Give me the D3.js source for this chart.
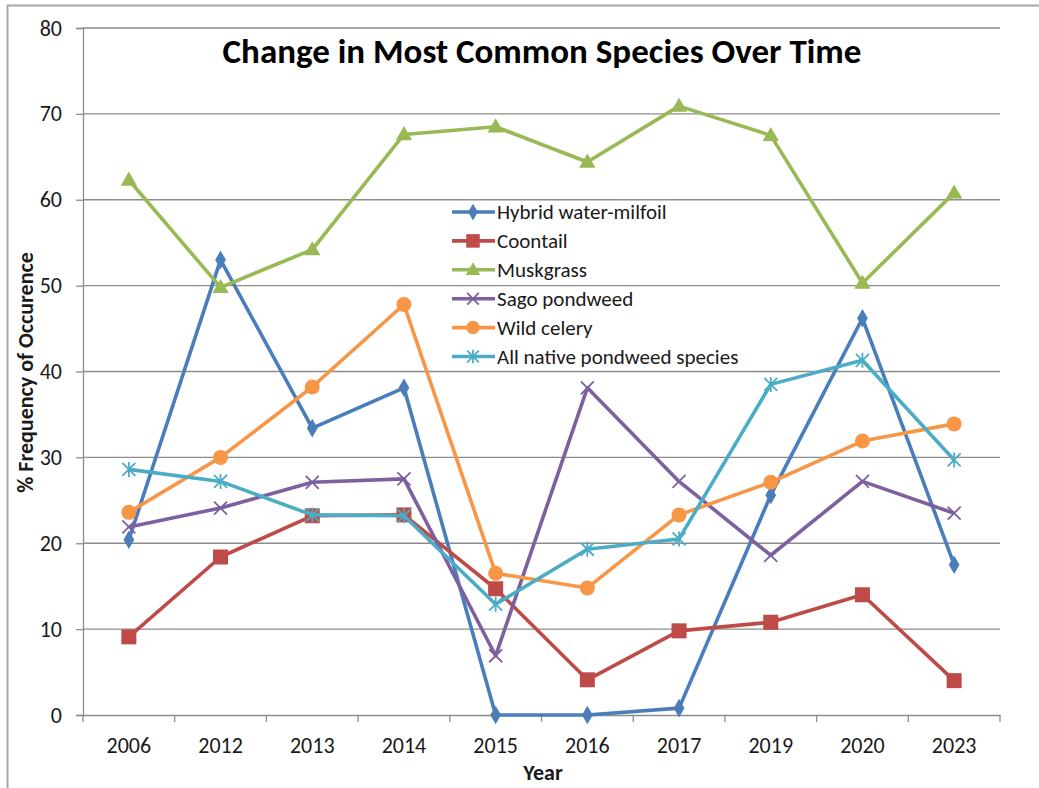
<!DOCTYPE html>
<html>
<head>
<meta charset="utf-8">
<script src="https://cdn.jsdelivr.net/npm/d3@7"></script>
<style>
  html, body { margin: 0; padding: 0; background: #fff; }
  svg { display: block; }
  text { font-family: Carlito, Calibri, "Open Sans", "Noto Sans", sans-serif; }
</style>
</head>
<body>
<svg id="chart" width="1039" height="788"></svg>
<script>
// Survey years (category axis)
const years = ["2006", "2012", "2013", "2014", "2015", "2016", "2017", "2019", "2020", "2023"];

// % frequency of occurrence per species and year
const hybridWaterMilfoil = [20.4, 53.0, 33.4, 38.1, 0.0, 0.0, 0.8, 25.6, 46.2, 17.5];
const coontail           = [9.1, 18.4, 23.2, 23.3, 14.7, 4.1, 9.8, 10.8, 14.0, 4.0];
const muskgrass          = [62.3, 49.8, 54.2, 67.6, 68.5, 64.4, 70.9, 67.5, 50.3, 60.8];
const sagoPondweed       = [21.9, 24.1, 27.1, 27.5, 6.9, 38.1, 27.2, 18.6, 27.2, 23.5];
const wildCelery         = [23.6, 30.0, 38.2, 47.8, 16.5, 14.8, 23.3, 27.1, 31.9, 33.9];
const allNativePondweed  = [28.6, 27.2, 23.3, 23.2, 12.9, 19.3, 20.5, 38.5, 41.3, 29.7];

const seriesNames = ["Hybrid water-milfoil", "Coontail", "Muskgrass", "Sago pondweed", "Wild celery", "All native pondweed species"];
const yTicks = [0, 10, 20, 30, 40, 50, 60, 70, 80];

const series = [
  { name: seriesNames[0], values: hybridWaterMilfoil, color: "#4A7EBB", marker: "diamond" },
  { name: seriesNames[1], values: coontail,           color: "#BE4B48", marker: "square" },
  { name: seriesNames[2], values: muskgrass,          color: "#98B954", marker: "triangle" },
  { name: seriesNames[3], values: sagoPondweed,       color: "#7D60A0", marker: "x" },
  { name: seriesNames[4], values: wildCelery,         color: "#F79646", marker: "circle" },
  { name: seriesNames[5], values: allNativePondweed,  color: "#4BACC6", marker: "star" }
];

const svg = d3.select("#chart");
const plot = { left: 83, right: 1000, top: 28, bottom: 715 };

// Chart frame (top and left edges)
svg.append("path")
  .attr("d", "M7.5,788V5.5H1039")
  .attr("fill", "none").attr("stroke", "#a6a6a6").attr("stroke-width", 2);

const x = d3.scaleBand().domain(years).range([plot.left, plot.right]);
const y = d3.scaleLinear().domain([0, 80]).range([plot.bottom, plot.top]);

// Horizontal gridlines
svg.append("g")
  .selectAll("line")
  .data(yTicks.filter(t => t > 0))
  .join("line")
  .attr("x1", plot.left).attr("x2", plot.right)
  .attr("y1", d => y(d)).attr("y2", d => y(d))
  .attr("stroke", "#8c8c8c").attr("stroke-width", 1.3);

// Y axis
const yAxis = svg.append("g")
  .attr("transform", `translate(${plot.left},0)`)
  .call(d3.axisLeft(y).tickValues(yTicks).tickSize(7).tickPadding(14));
yAxis.select(".domain").attr("stroke", "#8c8c8c").attr("stroke-width", 1.3);
yAxis.selectAll(".tick line").attr("stroke", "#8c8c8c").attr("stroke-width", 1.3);
yAxis.selectAll("text").attr("font-size", 22).attr("fill", "#1a1a1a");

// X axis, ticks between categories
const xAxis = svg.append("g")
  .attr("transform", `translate(0,${plot.bottom})`)
  .call(d3.axisBottom(x).tickSize(0).tickPadding(22));
xAxis.select(".domain").attr("stroke", "#8c8c8c").attr("stroke-width", 1.3);
xAxis.selectAll("text").attr("font-size", 22).attr("fill", "#1a1a1a");
const bounds = years.map(yr => x(yr)).concat([plot.right]);
svg.append("g")
  .selectAll("line")
  .data(bounds)
  .join("line")
  .attr("x1", d => d).attr("x2", d => d)
  .attr("y1", plot.bottom).attr("y2", plot.bottom + 7)
  .attr("stroke", "#8c8c8c").attr("stroke-width", 1.3);

// Marker shapes
function drawMarker(g, type, color, cx, cy, s) {
  s = s || 1;
  if (type === "diamond") {
    g.append("path").attr("d", d3.symbol(d3.symbolDiamond, 100 * s * s)())
      .attr("transform", `translate(${cx},${cy})`).attr("fill", color);
  } else if (type === "square") {
    g.append("rect").attr("x", cx - 7.5 * s).attr("y", cy - 7.5 * s)
      .attr("width", 15 * s).attr("height", 15 * s).attr("fill", color);
  } else if (type === "triangle") {
    g.append("path").attr("d", d3.symbol(d3.symbolTriangle, 115 * s * s)())
      .attr("transform", `translate(${cx},${cy + 1})`).attr("fill", color);
  } else if (type === "circle") {
    g.append("circle").attr("cx", cx).attr("cy", cy).attr("r", 7.5 * s).attr("fill", color);
  } else if (type === "x") {
    const r = 6.5 * s;
    g.append("path")
      .attr("d", `M${cx - r},${cy - r}L${cx + r},${cy + r}M${cx - r},${cy + r}L${cx + r},${cy - r}`)
      .attr("stroke", color).attr("stroke-width", 1.8).attr("fill", "none");
  } else if (type === "star") {
    const r = 6.5 * s;
    g.append("path")
      .attr("d", `M${cx - r},${cy - r}L${cx + r},${cy + r}M${cx - r},${cy + r}L${cx + r},${cy - r}M${cx},${cy - r - 1}L${cx},${cy + r + 1}`)
      .attr("stroke", color).attr("stroke-width", 1.8).attr("fill", "none");
  }
}

const line = d3.line()
  .x((d, i) => x(years[i]) + x.bandwidth() / 2)
  .y(d => y(d));

const linesG = svg.append("g");
series.forEach(s => {
  const g = linesG.append("g");
  g.append("path")
    .attr("d", line(s.values))
    .attr("fill", "none")
    .attr("stroke", s.color)
    .attr("stroke-width", 3.6)
    .attr("stroke-linejoin", "round");
  s.values.forEach((v, i) => drawMarker(g, s.marker, s.color, x(years[i]) + x.bandwidth() / 2, y(v), 1));
});

// Legend
const legend = svg.append("g");
const legendX = 452, legendY0 = 212, legendStep = 28.9;
series.forEach((s, i) => {
  const ly = legendY0 + i * legendStep;
  legend.append("line")
    .attr("x1", legendX).attr("x2", legendX + 43)
    .attr("y1", ly).attr("y2", ly)
    .attr("stroke", s.color).attr("stroke-width", 3.6);
  drawMarker(legend, s.marker, s.color, legendX + 21, ly, 0.9);
  legend.append("text")
    .attr("x", legendX + 45).attr("y", ly)
    .attr("dy", "0.35em")
    .attr("font-size", 21)
    .attr("fill", "#1a1a1a")
    .text(s.name);
});

// Title and axis titles
svg.append("text")
  .attr("x", 542).attr("y", 55)
  .attr("text-anchor", "middle").attr("dominant-baseline", "middle")
  .attr("font-size", 35).attr("font-weight", "bold").attr("fill", "#000")
  .text("Change in Most Common Species Over Time");

svg.append("text")
  .attr("transform", `translate(28,${(plot.top + plot.bottom) / 2 + 1}) rotate(-90)`)
  .attr("text-anchor", "middle").attr("dominant-baseline", "middle")
  .attr("font-size", 22).attr("font-weight", "bold").attr("fill", "#1a1a1a")
  .text("% Frequency of Occurence");

svg.append("text")
  .attr("x", 543).attr("y", 775)
  .attr("text-anchor", "middle").attr("dominant-baseline", "middle")
  .attr("font-size", 22).attr("font-weight", "bold").attr("fill", "#1a1a1a")
  .text("Year");
</script>
</body>
</html>
